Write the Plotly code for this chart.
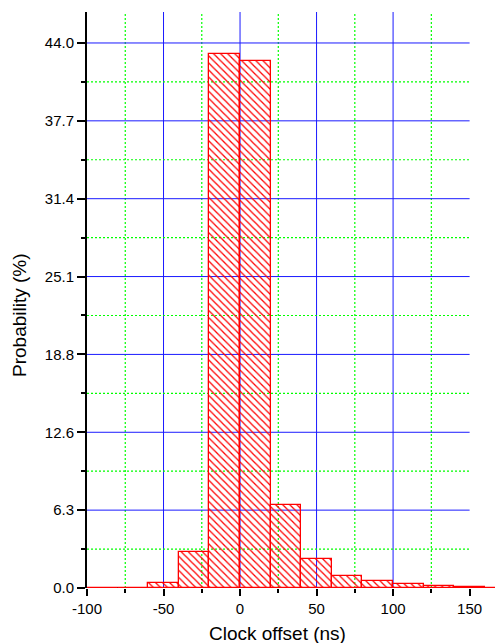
import plotly.graph_objects as go

# ---- data ----
bin_left = [-100, -80, -60, -40, -20, 0, 20, 40, 60, 80, 100, 120, 140, 160, 180]
bin_width = 20
probability = [0.01, 0.02, 0.40, 2.93, 43.14, 42.52, 6.73, 2.34, 0.97, 0.57, 0.32, 0.16, 0.08, 0.02, 0.01]

y_tick_vals = [0, 44 / 7, 88 / 7, 132 / 7, 176 / 7, 220 / 7, 264 / 7, 44]
y_tick_text = ["0.0", "6.3", "12.6", "18.8", "25.1", "31.4", "37.7", "44.0"]
x_tick_vals = [-100, -50, 0, 50, 100, 150]
x_tick_text = ["-100", "-50", "0", "50", "100", "150"]
x_minor_vals = [-75, -25, 25, 75, 125]

FONT = "Arial, Liberation Sans, sans-serif"
BLUE = "#1a1aff"
GREEN = "#00ff00"

centers = [b + bin_width / 2 for b in bin_left]
y_minor_vals = [(y_tick_vals[i] + y_tick_vals[i + 1]) / 2 for i in range(len(y_tick_vals) - 1)]

fig = go.Figure()
fig.add_trace(go.Bar(
    x=centers, y=probability, width=bin_width,
    marker=dict(
        color="red",
        line=dict(color="red", width=1.3),
        pattern=dict(shape="\\", fillmode="replace", fgcolor="red",
                     bgcolor="rgba(0,0,0,0)", size=5, solidity=0.25),
    ),
    showlegend=False,
))

shapes = []
# vertical grid lines
for v in [-50, 0, 50, 100]:
    shapes.append(dict(type="line", xref="x", yref="paper", x0=v, x1=v, y0=0, y1=1,
                       line=dict(color=BLUE, width=1), layer="below"))
for v in x_minor_vals:
    shapes.append(dict(type="line", xref="x", yref="paper", x0=v, x1=v, y0=0, y1=1,
                       line=dict(color=GREEN, width=1.2, dash="2px,2px"), layer="below"))
# horizontal grid lines
for v in y_tick_vals[1:]:
    shapes.append(dict(type="line", xref="x", yref="y", x0=-100, x1=150, y0=v, y1=v,
                       line=dict(color=BLUE, width=1), layer="below"))
for v in y_minor_vals:
    shapes.append(dict(type="line", xref="x", yref="y", x0=-100, x1=150, y0=v, y1=v,
                       line=dict(color=GREEN, width=1.2, dash="2px,2px"), layer="below"))
# x axis line
shapes.append(dict(type="line", xref="x", yref="y", x0=-100, x1=150, y0=0, y1=0,
                   line=dict(color="black", width=2), layer="below"))

fig.update_layout(
    width=495, height=643, autosize=False,
    margin=dict(l=87, r=0, t=12, b=55, pad=0),
    plot_bgcolor="white", paper_bgcolor="white",
    font=dict(family=FONT, size=15, color="black"),
    bargap=0,
    shapes=shapes,
    xaxis=dict(
        range=[-100, 166.6], showgrid=False, zeroline=False, showline=False,
        tickmode="array", tickvals=x_tick_vals, ticktext=x_tick_text,
        ticks="outside", ticklen=7, tickwidth=1.5, tickcolor="black",
        minor=dict(tickvals=x_minor_vals, ticks="outside", ticklen=4, tickcolor="black",
                   tickwidth=1.5, showgrid=False),
        tickfont=dict(size=15),
    ),
    yaxis=dict(
        range=[0, 46.5], showgrid=False, zeroline=False,
        showline=True, linecolor="black", linewidth=2,
        tickmode="array", tickvals=y_tick_vals, ticktext=y_tick_text,
        ticks="outside", ticklen=8, tickwidth=1.5, tickcolor="black",
        minor=dict(tickvals=y_minor_vals, ticks="outside", ticklen=4, tickcolor="black",
                   tickwidth=1.5, showgrid=False),
        tickfont=dict(size=15),
    ),
    annotations=[
        dict(text="Clock offset (ns)", xref="paper", yref="paper", x=0.468, y=0,
             yshift=-45, xanchor="center", yanchor="middle", showarrow=False,
             font=dict(size=19)),
        dict(text="Probability (%)", xref="paper", yref="paper", x=0, y=0.474,
             xshift=-67, xanchor="center", yanchor="middle", textangle=-90,
             showarrow=False, font=dict(size=19)),
    ],
)

fig.write_html("out.html")
